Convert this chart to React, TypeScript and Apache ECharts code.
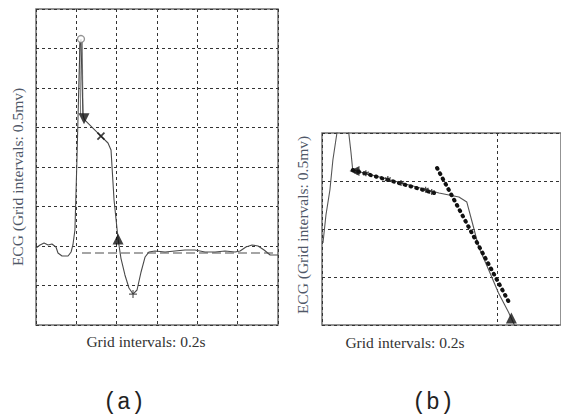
import React, { useEffect, useRef } from "react";
import * as echarts from "echarts";

// Panel (a): full beat, t in s, v in mV
const ecgA: number[][] = [
  [0, 0.975], [0.02, 1.013], [0.04, 1.038], [0.06, 1.013], [0.079, 1.025], [0.099, 0.987],
  [0.109, 0.911], [0.129, 0.873], [0.159, 0.873], [0.174, 0.924], [0.183, 1.013], [0.193, 1.203],
  [0.203, 2.089], [0.213, 3.1], [0.218, 3.544], [0.223, 3.62], [0.228, 3.1], [0.233, 2.658],
  [0.24, 2.6], [0.322, 2.392], [0.357, 2.304], [0.372, 2.215], [0.387, 1.582], [0.407, 1.089],
  [0.421, 0.848], [0.441, 0.633], [0.461, 0.468], [0.481, 0.392], [0.501, 0.443], [0.521, 0.671],
  [0.541, 0.861], [0.56, 0.924], [0.59, 0.937], [0.64, 0.924], [0.689, 0.937], [0.739, 0.949],
  [0.788, 0.949], [0.838, 0.924], [0.888, 0.924], [0.937, 0.937], [0.987, 0.924], [1.012, 0.937],
  [1.041, 0.987], [1.071, 1.013], [1.101, 1.0], [1.131, 0.949], [1.161, 0.886], [1.2, 0.886],
];
const baselineA: number[][] = [[0.228, 0.911], [1.2, 0.911]];
const dropA: number[][] = [[0.223, 3.59], [0.227, 2.67]];
const peakA: number[][] = [[0.223, 3.62]];
const jPointA: number[][] = [[0.238, 2.61]];
const crossA: number[][] = [[0.322, 2.392]];
const tEndA: number[][] = [[0.407, 1.089]];
const troughA: number[][] = [[0.481, 0.392]];

// Panel (b): zoom on the ST segment
const ecgB: number[][] = [
  [0.0011, 0.854], [0.0045, 1.146], [0.009, 1.406], [0.0124, 1.719], [0.017, 2.0], [0.0237, 2.34],
  [0.0305, 2.0], [0.033, 1.8], [0.035, 1.615], [0.0655, 1.542], [0.0994, 1.458], [0.1333, 1.375],
  [0.156, 1.333], [0.165, 1.281], [0.1718, 1.047], [0.1785, 0.8125], [0.19, 0.573], [0.2011, 0.333],
  [0.2124, 0.135], [0.2192, 0],
];
const fitB1: number[][] = [[0.035, 1.615], [0.1277, 1.375]];
const fitB2: number[][] = [[0.1311, 1.635], [0.2147, 0.208]];
const starsB: number[][] = [[0.04, 1.6], [0.05, 1.58], [0.075, 1.52], [0.09, 1.48], [0.118, 1.41], [0.125, 1.385]];
const startB: number[][] = [[0.037, 1.605]];
const endB: number[][] = [[0.2158, 0.073]];

const xLabel = "Grid intervals: 0.2s";
const yLabel = "ECG (Grid intervals: 0.5mv)";

const SERIF = "'Liberation Serif', 'DejaVu Serif', serif";

export default function App() {
  const ref = useRef<HTMLDivElement>(null);
  useEffect(() => {
    document.body.style.margin = "0";
    const chart = echarts.init(ref.current!, undefined, { renderer: "svg" });
    const gridLine = { show: true, lineStyle: { color: "#333", width: 1, type: [3, 3] as any } };
    const hiddenAxis = {
      axisLabel: { show: false },
      axisTick: { show: false },
      axisLine: { show: false },
    };
    const mk = (xi: number, data: number[][], symbol: string, size: number, extra: any = {}) => ({
      type: "scatter",
      xAxisIndex: xi,
      yAxisIndex: xi,
      data,
      symbol,
      symbolSize: size,
      z: 5,
      ...extra,
    });
    chart.setOption({
      animation: false,
      backgroundColor: "#fff",
      grid: [
        { left: 36, top: 9, width: 242, height: 316, show: true, borderColor: "#707070", borderWidth: 1.5 },
        { left: 322, top: 133, width: 241, height: 192, show: true, borderColor: "#707070", borderWidth: 1.5 },
      ],
      xAxis: [
        { type: "value", gridIndex: 0, min: 0, max: 1.2, interval: 0.2, splitLine: gridLine, ...hiddenAxis },
        { type: "value", gridIndex: 1, min: 0, max: 0.2723, interval: 0.2, splitLine: gridLine, ...hiddenAxis },
      ],
      yAxis: [
        { type: "value", gridIndex: 0, min: 0, max: 4, interval: 0.5, splitLine: gridLine, ...hiddenAxis },
        { type: "value", gridIndex: 1, min: 0, max: 2, interval: 0.5, splitLine: gridLine, ...hiddenAxis },
      ],
      series: [
        {
          type: "line", xAxisIndex: 0, yAxisIndex: 0, data: baselineA, symbol: "none",
          lineStyle: { color: "#888", width: 1.5, type: [9, 4] },
        },
        {
          type: "line", xAxisIndex: 0, yAxisIndex: 0, data: dropA, symbol: "none",
          lineStyle: { color: "#777", width: 3.5 },
        },
        {
          type: "line", xAxisIndex: 0, yAxisIndex: 0, data: dropA, symbol: "none",
          lineStyle: { color: "#fff", width: 1.4 },
        },
        {
          type: "line", xAxisIndex: 0, yAxisIndex: 0, data: ecgA, symbol: "none",
          lineStyle: { color: "#4a4a4a", width: 1.1 },
        },
        mk(0, peakA, "circle", 7, { itemStyle: { color: "#fff", borderColor: "#777", borderWidth: 1.3 } }),
        mk(0, jPointA, "triangle", 11, { symbolRotate: 180, itemStyle: { color: "#111" } }),
        mk(0, crossA, "path://M0,0L10,10M10,0L0,10", 7, { itemStyle: { color: "transparent", borderColor: "#111", borderWidth: 1.7 } }),
        mk(0, tEndA, "triangle", 11, { itemStyle: { color: "#111" } }),
        mk(0, troughA, "path://M5,0L5,10M0,5L10,5", 8, { itemStyle: { color: "transparent", borderColor: "#333", borderWidth: 1.2 } }),
        {
          type: "line", xAxisIndex: 1, yAxisIndex: 1, data: ecgB, symbol: "none",
          lineStyle: { color: "#555", width: 1.1 },
        },
        {
          type: "line", xAxisIndex: 1, yAxisIndex: 1, data: fitB1, symbol: "none", z: 4,
          lineStyle: { color: "#111", width: 4, type: [0.8, 5.2], cap: "round" },
        },
        {
          type: "line", xAxisIndex: 1, yAxisIndex: 1, data: fitB2, symbol: "none", z: 4,
          lineStyle: { color: "#111", width: 4, type: [0.8, 5.2], cap: "round" },
        },
        mk(1, starsB, "path://M5,0L5,10M0.7,2.5L9.3,7.5M0.7,7.5L9.3,2.5", 6, { itemStyle: { color: "transparent", borderColor: "#222", borderWidth: 1.3 } }),
        mk(1, startB, "triangle", 10, { symbolRotate: 90, itemStyle: { color: "#111" } }),
        mk(1, endB, "triangle", 11, { itemStyle: { color: "#111" } }),
      ],
      graphic: [
        { type: "text", x: 146, y: 341, style: { text: xLabel, font: `15.5px ${SERIF}`, fill: "#333", align: "center", verticalAlign: "middle" } },
        { type: "text", x: 405, y: 342, style: { text: xLabel, font: `15.5px ${SERIF}`, fill: "#333", align: "center", verticalAlign: "middle" } },
        { type: "text", x: 17, y: 177, rotation: Math.PI / 2, style: { text: yLabel, font: `15.5px ${SERIF}`, fill: "#505868", align: "center", verticalAlign: "middle" } },
        { type: "text", x: 302, y: 225, rotation: Math.PI / 2, style: { text: yLabel, font: `15.5px ${SERIF}`, fill: "#505868", align: "center", verticalAlign: "middle" } },
        { type: "text", x: 124, y: 403, style: { text: "(a)", font: `23px 'Liberation Mono', monospace`, fill: "#222", align: "center", verticalAlign: "middle" } },
        { type: "text", x: 433, y: 403, style: { text: "(b)", font: `23px 'Liberation Mono', monospace`, fill: "#222", align: "center", verticalAlign: "middle" } },
      ],
    });
    return () => chart.dispose();
  }, []);
  return <div ref={ref} style={{ width: 561, height: 418 }} />;
}
